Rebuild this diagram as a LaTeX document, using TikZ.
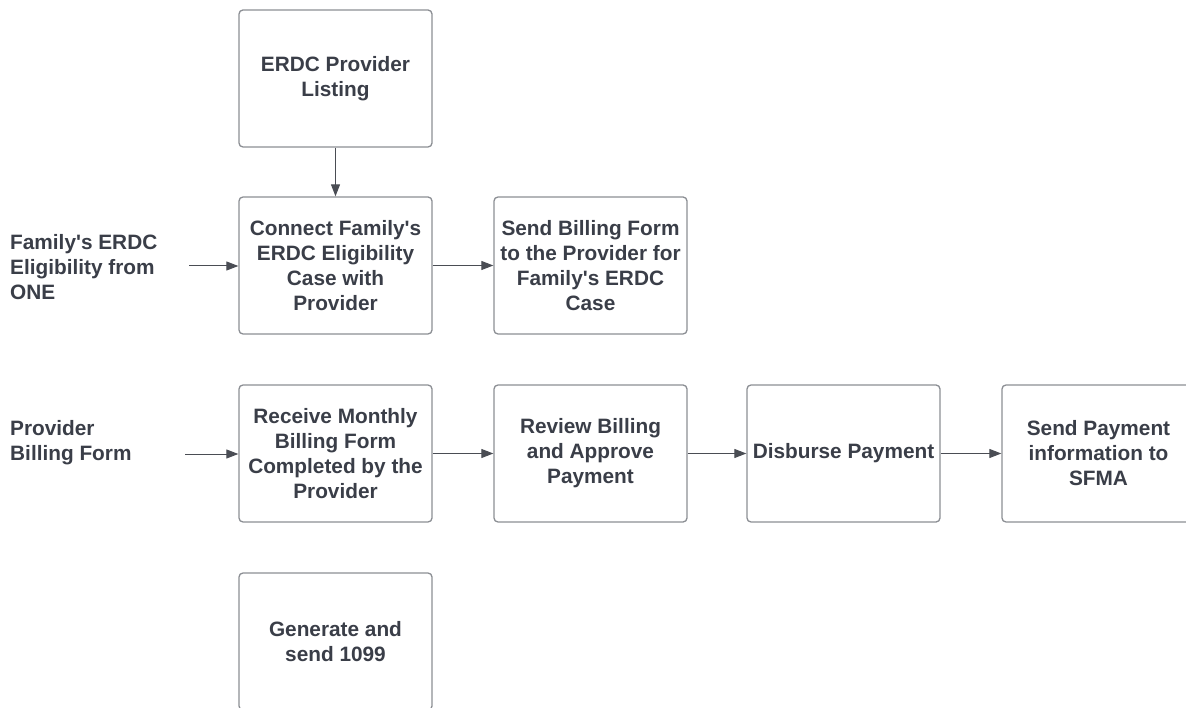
\documentclass[tikz,border=0pt]{standalone}
\usepackage{fontspec}
\setmainfont{Liberation Sans}
\usetikzlibrary{arrows.meta}
\definecolor{inkdark}{HTML}{3A3E48}
\definecolor{boxline}{HTML}{8C8F94}
\definecolor{arrowline}{HTML}{4A4D54}
% straight apostrophe
\newcommand{\apos}{\textquotesingle}
\tikzset{
  procbox/.style={draw=boxline, line width=1.3pt, rounded corners=4pt,
    minimum width=193pt, minimum height=137pt, inner sep=0pt,
    align=center, text=inkdark, font=\bfseries\fontsize{20.8}{25}\selectfont},
  sidelabel/.style={anchor=west, align=left, inner sep=0pt, text=inkdark,
    font=\bfseries\fontsize{20.8}{25}\selectfont},
  flow/.style={draw=arrowline, line width=1pt, -{Triangle[length=12pt,width=9pt]}}
}
\begin{document}
\begin{tikzpicture}[x=1pt,y=-1pt]
\useasboundingbox (0,0) rectangle (1186,708);
\fill[white] (0,0) rectangle (1186,708);
\clip (0,0) rectangle (1186,708);

% process boxes
\node[procbox] (listing)  at (335.5,78.5)  {ERDC Provider\\Listing};
\node[procbox] (connect)  at (335.5,265.5) {Connect Family\apos s\\ERDC Eligibility\\Case with\\Provider};
\node[procbox] (sendform) at (590.5,265.5) {Send Billing Form\\to the Provider for\\Family\apos s ERDC\\Case};
\node[procbox] (receive)  at (335.5,453.5) {Receive Monthly\\Billing Form\\Completed by the\\Provider};
\node[procbox] (review)   at (590.5,453.5) {Review Billing\\and Approve\\Payment};
\node[procbox] (disburse) at (843.5,453.5) {Disburse Payment};
\node[procbox] (sfma)     at (1098.5,453.5) {Send Payment\\information to\\SFMA};
\node[procbox] (gen1099)  at (335.5,641.5) {Generate and\\send 1099};

% inputs on the left
\node[sidelabel] (famlabel) at (10,267) {Family\apos s ERDC\\Eligibility from\\ONE};
\node[sidelabel] (provlabel) at (10,442.5) {Provider\\Billing Form};
\coordinate (famin)  at (189,266);
\coordinate (provin) at (185,454);

% connectors
\draw[flow] (listing.south) -- (connect.north);
\draw[flow] (famin) -- (famin -| connect.west);
\draw[flow] (connect.east) -- (sendform.west);
\draw[flow] (provin) -- (provin -| receive.west);
\draw[flow] (receive.east) -- (review.west);
\draw[flow] (review.east) -- (disburse.west);
\draw[flow] (disburse.east) -- (sfma.west);
\end{tikzpicture}
\end{document}
